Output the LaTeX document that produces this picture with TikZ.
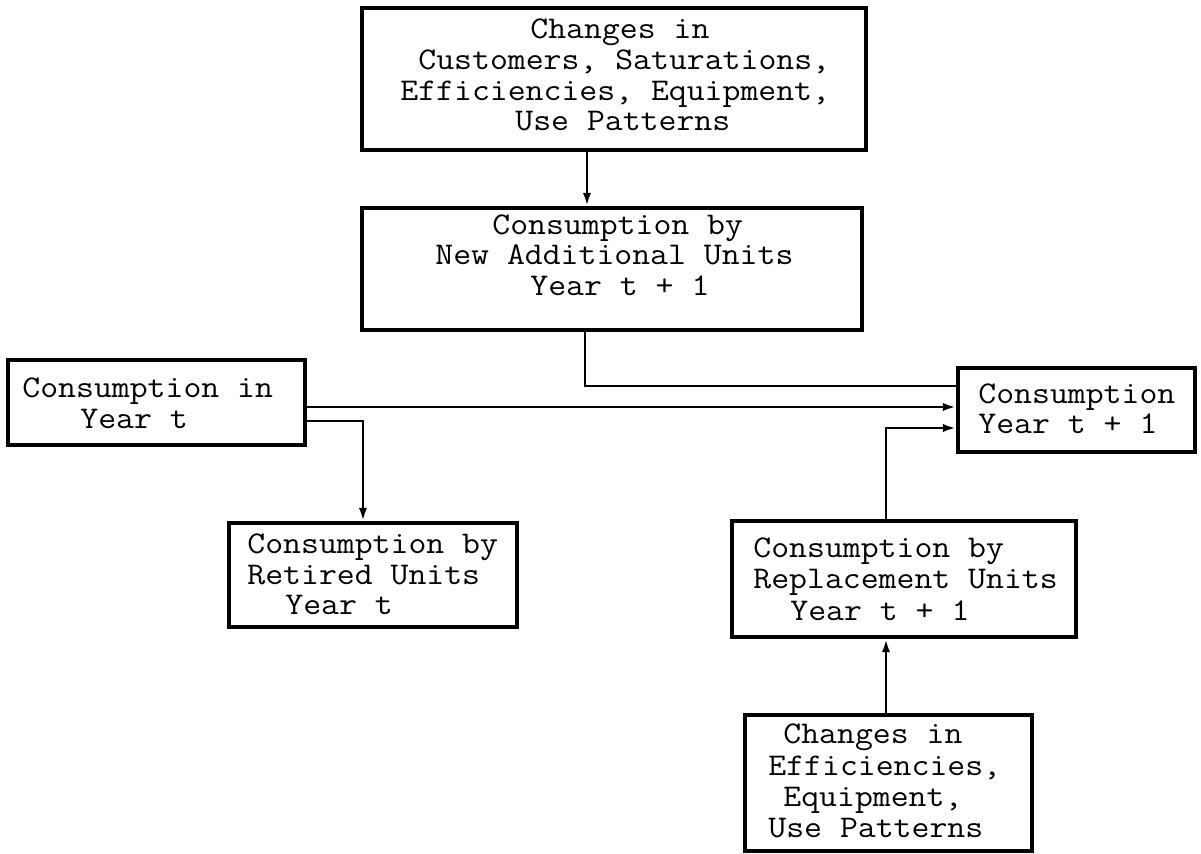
\documentclass[tikz,border=0pt]{standalone}
\usepackage{fontspec}
\usepackage{graphicx}
\usetikzlibrary{fit,arrows.meta}
\newcommand\twline[1]{\scalebox{1.1}[1]{#1}}
\begin{document}
\begin{tikzpicture}[x=0.5pt,y=-0.5pt,
  box/.style={draw, line width=2.2pt, inner sep=0pt},
  txt/.style={anchor=base west, inner sep=0pt, text height=10pt, text depth=2.5pt, font=\ttfamily\fontsize{15.8pt}{18pt}\selectfont},
  conn/.style={line width=1.3pt},
  arr/.style={conn, -{Latex[length=6.5pt,width=4.2pt]}}]
\useasboundingbox (0,0) rectangle (1201,853);
% boxes
\node[box, fit={(362,8) (866,150)}] (top) {};
\node[box, fit={(362,208) (862,330)}] (mid) {};
\node[box, fit={(8,360) (305,445)}] (lft) {};
\node[box, fit={(958,368) (1195,452)}] (rt) {};
\node[box, fit={(229,523) (517,627)}] (ret) {};
\node[box, fit={(732,521) (1076,637)}] (rep) {};
\node[box, fit={(745,715) (1032,851)}] (bot) {};
% texts
\node[txt] (top1) at (530,38) {\twline{Changes in}};
\node[txt] (top2) at (418,69) {\twline{Customers, Saturations,}};
\node[txt] (top3) at (400,100) {\twline{Efficiencies, Equipment,}};
\node[txt] (top4) at (515,130) {\twline{Use Patterns}};
\node[txt] (mid1) at (492,234) {\twline{Consumption by}};
\node[txt] (mid2) at (435,264) {\twline{New Additional Units}};
\node[txt] (mid3) at (530,295) {\twline{Year t + 1}};
\node[txt] (lft1) at (22,397) {\twline{Consumption in}};
\node[txt] (lft2) at (80,428) {\twline{Year t}};
\node[txt] (rt1) at (978,403) {\twline{Consumption}};
\node[txt] (rt2) at (978,433) {\twline{Year t + 1}};
\node[txt] (ret1) at (247,553) {\twline{Consumption by}};
\node[txt] (ret2) at (247,584) {\twline{Retired Units}};
\node[txt] (ret3) at (285,614) {\twline{Year t}};
\node[txt] (rep1) at (753,557) {\twline{Consumption by}};
\node[txt] (rep2) at (753,588) {\twline{Replacement Units}};
\node[txt] (rep3) at (790,620) {\twline{Year t + 1}};
\node[txt] (bot1) at (783,743) {\twline{Changes in}};
\node[txt] (bot2) at (768,775) {\twline{Efficiencies,}};
\node[txt] (bot3) at (783,806) {\twline{Equipment,}};
\node[txt] (bot4) at (768,837) {\twline{Use Patterns}};
% connector helpers
\coordinate (xa) at (587,0);
\coordinate (xb) at (585,0);
\coordinate (ya) at (0,386);
\coordinate (yb) at (0,407);
\coordinate (yc) at (0,421);
\coordinate (xc) at (363,0);
\coordinate (xd) at (886,0);
\coordinate (yd) at (0,428);
% connectors
\draw[arr] (top.south -| xa) -- (mid.north -| xa);
\draw[conn] (mid.south -| xb) |- (rt.west |- ya);
\draw[arr] (lft.east |- yb) -- (rt.west |- yb);
\draw[arr] (lft.east |- yc) -| (ret.north -| xc);
\draw[arr] (rep.north -| xd) |- (rt.west |- yd);
\draw[arr] (bot.north -| xd) -- (rep.south -| xd);
\end{tikzpicture}
\end{document}
